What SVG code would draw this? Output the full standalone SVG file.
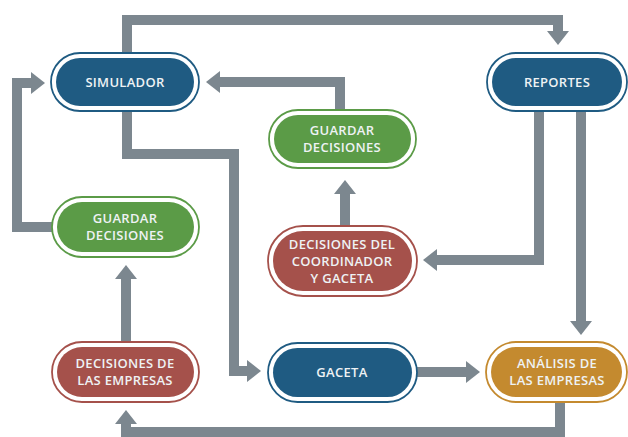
<svg xmlns="http://www.w3.org/2000/svg" width="628" height="437" viewBox="0 0 628 437">
<style>
.c{fill:none;stroke:#7c878f;stroke-width:10;stroke-linejoin:miter}
.o{fill:#fff;stroke-width:1.8}
.t{font-family:"Open Sans","Liberation Sans",sans-serif;font-weight:600;font-size:13px;letter-spacing:0.3px;fill:#eef2f4;text-anchor:middle}
.blue .o{stroke:#1f5b82}.blue .i{fill:#1f5b82}
.green .o{stroke:#5b9b47}.green .i{fill:#5b9b47}
.red .o{stroke:#a5514b}.red .i{fill:#a5514b}
.gold .o{stroke:#c48a2f}.gold .i{fill:#c48a2f}
</style>
<defs>
<marker id="ah" viewBox="0 -11 14 22" refX="0" refY="0" markerWidth="14" markerHeight="22" markerUnits="userSpaceOnUse" orient="auto">
<polygon points="0,-11 14,0 0,11" fill="#7c878f"/>
</marker>
</defs>
<rect width="628" height="437" fill="#fff"/>
<g id="connectors">
<path class="c" d="M127 53V20H558V31" marker-end="url(#ah)"/>
<path class="c" d="M340 110V82H220" marker-end="url(#ah)"/>
<path class="c" d="M127 111V154H234V371H247" marker-end="url(#ah)"/>
<path class="c" d="M52 227H17V83H31" marker-end="url(#ah)"/>
<path class="c" d="M126 342V279" marker-end="url(#ah)"/>
<path class="c" d="M345 226V194" marker-end="url(#ah)"/>
<path class="c" d="M539 111V260H437" marker-end="url(#ah)"/>
<path class="c" d="M581 111V321" marker-end="url(#ah)"/>
<path class="c" d="M417 372H466" marker-end="url(#ah)"/>
<path class="c" d="M560 402V432H126V424" marker-end="url(#ah)"/>
</g>
<g id="simulador" class="blue">
<rect class="o" x="51" y="53" width="148" height="58" rx="29"/>
<rect class="i" x="56" y="58" width="138" height="48" rx="24"/>
<text class="t" x="125" y="86.5">SIMULADOR</text>
</g>
<g id="reportes" class="blue">
<rect class="o" x="487" y="53" width="140" height="58" rx="29"/>
<rect class="i" x="492" y="58" width="130" height="48" rx="24"/>
<text class="t" x="557" y="86.5">REPORTES</text>
</g>
<g id="guardar1" class="green">
<rect class="o" x="269" y="110" width="147" height="58" rx="29"/>
<rect class="i" x="274" y="115" width="137" height="48" rx="24"/>
<text class="t" x="342" y="135">GUARDAR</text>
<text class="t" x="342" y="152">DECISIONES</text>
</g>
<g id="guardar2" class="green">
<rect class="o" x="52" y="197" width="147" height="60" rx="30"/>
<rect class="i" x="57" y="202" width="137" height="50" rx="25"/>
<text class="t" x="125" y="223">GUARDAR</text>
<text class="t" x="125" y="240">DECISIONES</text>
</g>
<g id="coordinador" class="red">
<rect class="o" x="268" y="226" width="149" height="70" rx="35"/>
<rect class="i" x="273" y="231" width="139" height="60" rx="30"/>
<text class="t" x="342" y="249">DECISIONES DEL</text>
<text class="t" x="342" y="266">COORDINADOR</text>
<text class="t" x="342" y="283">Y GACETA</text>
</g>
<g id="empresas" class="red">
<rect class="o" x="52" y="342" width="147" height="60" rx="30"/>
<rect class="i" x="57" y="347" width="137" height="50" rx="25"/>
<text class="t" x="125" y="368">DECISIONES DE</text>
<text class="t" x="125" y="385">LAS EMPRESAS</text>
</g>
<g id="gaceta" class="blue">
<rect class="o" x="268" y="343" width="149" height="59" rx="29.5"/>
<rect class="i" x="273" y="348" width="139" height="49" rx="24.5"/>
<text class="t" x="342" y="376.5">GACETA</text>
</g>
<g id="analisis" class="gold">
<rect class="o" x="486" y="342" width="141" height="60" rx="30"/>
<rect class="i" x="491" y="347" width="131" height="50" rx="25"/>
<text class="t" x="557" y="368">ANÁLISIS DE</text>
<text class="t" x="557" y="385">LAS EMPRESAS</text>
</g>
</svg>
